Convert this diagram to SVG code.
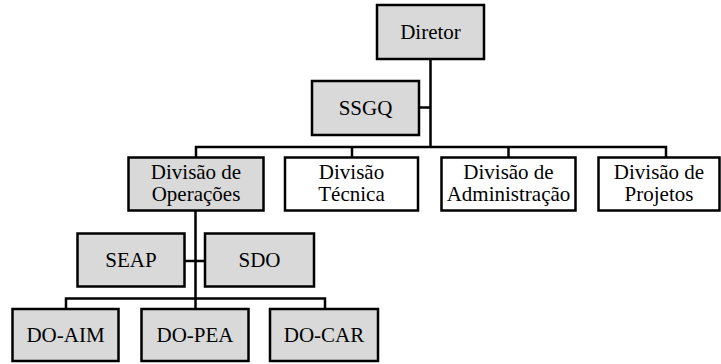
<svg xmlns="http://www.w3.org/2000/svg" width="721" height="364" viewBox="0 0 721 364">
<style>
.box{stroke:#000;stroke-width:2.5}
.g{fill:#d9d9d9}
.w{fill:#fff}
.t{font-size:21px;fill:#000;text-anchor:middle}
.c{fill:none;stroke:#000;stroke-width:2.5}
</style>
<rect width="721" height="364" fill="#fff"/>
<g id="connectors">
<path class="c" d="M430.5,59 V147 M419,107.5 H430.5 M196,157 V147 H666 V157 M352,147 V157 M508.5,147 V157"/>
<path class="c" d="M195.5,211 V309 M184,261 H205 M66,309 V298.5 H325 V309"/>
</g>
<g font-family="'Liberation Serif', 'DejaVu Serif', serif">
<g id="diretor"><rect class="box g" x="377" y="5" width="107" height="54"/><text class="t" x="430.5" y="39">Diretor</text></g>
<g id="ssgq"><rect class="box g" x="312" y="81" width="107" height="54"/><text class="t" x="365.5" y="115">SSGQ</text></g>
<g id="div-operacoes"><rect class="box g" x="128.5" y="157.5" width="135" height="53"/><text class="t" x="196" y="179">Divisão de</text><text class="t" x="196" y="201">Operações</text></g>
<g id="div-tecnica"><rect class="box w" x="285" y="157.5" width="133" height="53"/><text class="t" x="351.5" y="179">Divisão</text><text class="t" x="351.5" y="201">Técnica</text></g>
<g id="div-administracao"><rect class="box w" x="441.5" y="157.5" width="134" height="53"/><text class="t" x="508.5" y="179">Divisão de</text><text class="t" x="508.5" y="201">Administração</text></g>
<g id="div-projetos"><rect class="box w" x="598.5" y="157.5" width="121" height="53"/><text class="t" x="659" y="179">Divisão de</text><text class="t" x="659" y="201">Projetos</text></g>
<g id="seap"><rect class="box g" x="77.5" y="233.5" width="107" height="53"/><text class="t" x="131" y="267">SEAP</text></g>
<g id="sdo"><rect class="box g" x="205" y="233.5" width="109" height="53"/><text class="t" x="259.5" y="267">SDO</text></g>
<g id="do-aim"><rect class="box g" x="12.5" y="309" width="106" height="52"/><text class="t" x="65.5" y="342">DO-AIM</text></g>
<g id="do-pea"><rect class="box g" x="141.5" y="309" width="107" height="52"/><text class="t" x="195" y="342">DO-PEA</text></g>
<g id="do-car"><rect class="box g" x="270" y="309" width="108" height="52"/><text class="t" x="324" y="342">DO-CAR</text></g>
</g>
</svg>
